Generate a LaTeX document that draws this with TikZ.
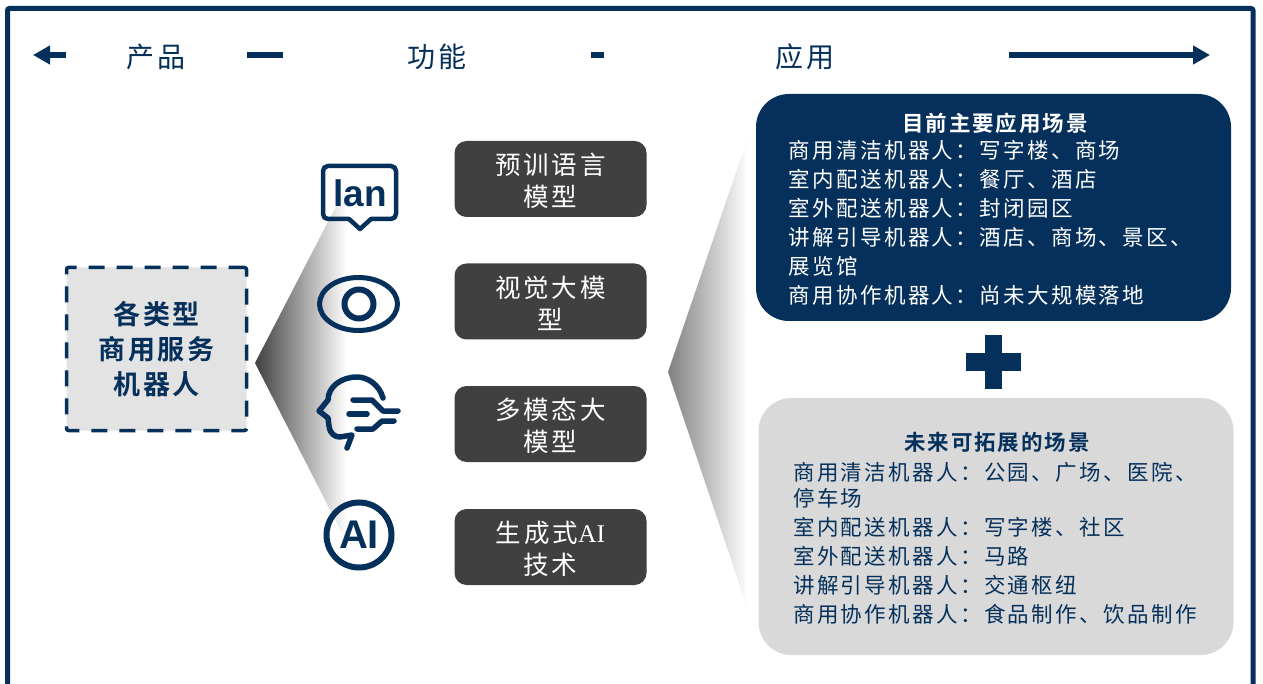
\documentclass[tikz,border=0pt]{standalone}
\usepackage{fontspec}
\usetikzlibrary{arrows.meta,shapes.geometric}
\newfontfamily\cjk[LetterSpace=11,BoldFont={Noto Sans CJK SC Bold}]{Noto Sans CJK SC}
\newfontfamily\cjktitle[LetterSpace=9,BoldFont={Noto Sans CJK SC Bold}]{Noto Sans CJK SC}
\newfontfamily\cjkhead[LetterSpace=14,BoldFont={Noto Sans CJK SC Bold}]{Noto Sans CJK SC}
\newfontfamily\latinserif{Liberation Serif}
\newfontfamily\iconsans{Liberation Sans}
\definecolor{navy}{HTML}{05305B}
\definecolor{darkbox}{HTML}{404040}
\definecolor{greybox}{HTML}{D9D9D9}
\definecolor{productfill}{HTML}{E3E3E3}
\tikzset{
  headlabel/.style={text=navy,inner sep=0pt,font=\cjkhead\fontsize{28}{30}\selectfont},
  headline/.style={draw=navy,line width=5.5pt},
  headarrow/.style={headline,-{Triangle[length=17pt,width=18pt]}},
  productbox/.style={draw=navy,fill=productfill,line width=3.5pt,dash pattern=on 16pt off 12pt,rounded corners=2pt,minimum width=180pt,minimum height=163pt,align=center,text=navy,font=\cjktitle\bfseries\fontsize{27}{35}\selectfont},
  modelbox/.style={fill=darkbox,rounded corners=12pt,minimum width=192pt,minimum height=76pt,inner sep=0pt},
  modeltext/.style={yshift=-2pt,inner sep=0pt,align=center,text=white,font=\cjk\fontsize{25.5}{32}\selectfont},
  scenebox/.style={rounded corners=33pt,minimum width=475pt},
  scenetitle/.style={inner sep=0pt,font=\cjktitle\bfseries\fontsize{21.5}{25}\selectfont},
  scenetext/.style={inner sep=0pt,anchor=north west,align=left,font=\cjk\fontsize{21.5}{29}\selectfont},
  iconline/.style={draw=navy,line width=5.5pt,line cap=round,line join=round},
}
\begin{document}
\begin{tikzpicture}[x=1pt,y=-1pt]
  \useasboundingbox (0,0) rectangle (1263,684);
  \draw [navy,line width=5pt,rounded corners=2pt] (7.5,8.5) rectangle (1253,710);

  \coordinate (larrowa) at (66,55);
  \coordinate (larrowb) at (33,55);
  \coordinate (lineaa) at (247,55);
  \coordinate (lineab) at (283,55);
  \coordinate (lineba) at (591,55);
  \coordinate (linebb) at (604,55);
  \coordinate (rarrowa) at (1009,55);
  \coordinate (rarrowb) at (1210,55);
  \draw [headarrow] (larrowa) -- (larrowb);
  \draw [headline] (lineaa) -- (lineab);
  \draw [headline] (lineba) -- (linebb);
  \draw [headarrow] (rarrowa) -- (rarrowb);
  \node [headlabel] (product) at (156,57) {产品};
  \node [headlabel] (function) at (437,57) {功能};
  \node [headlabel] (usage) at (805,57) {应用};

  \coordinate (fanl) at (255,363);
  \coordinate (fanlt) at (347,185);
  \coordinate (fanlb) at (347,543);
  \shade [left color=darkbox,right color=white] (fanl) -- (fanlt) -- (fanlb) -- cycle;
  \coordinate (fanr) at (668,372);
  \coordinate (fanrt) at (748,137);
  \coordinate (fanrb) at (748,610);
  \shade [left color=black!50,right color=white] (fanr) -- (fanrt) -- (fanrb) -- cycle;

  \node [productbox] (robots) at (156.5,349) {各类型\\商用服务\\机器人};

  \draw [iconline,line width=4.5pt,rounded corners=5pt] (323,166) rectangle (396,219);
  \fill [white] (349,216) rectangle (371,222);
  \draw [iconline,line width=4.5pt] (349,219) -- (360,229) -- (371,219);
  \node [inner sep=0pt,text=navy,font=\iconsans\bfseries\fontsize{37}{37}\selectfont] (lan) at (360,193) {lan};
  \node [ellipse,draw=navy,line width=5pt,minimum width=78pt,minimum height=53pt,inner sep=0pt] (eye) at (358.5,304) {};
  \node [circle,draw=navy,line width=6pt,minimum size=29pt,inner sep=0pt] (iris) at (359,304) {};
  \draw [iconline] (383,398) .. controls (379,384) and (367,377) .. (357,377) .. controls (341,377) and (328,387) .. (328,400) -- (319,411) -- (328,418) -- (329,426) .. controls (330,434) and (335,437) .. (340,437) -- (352,435) -- (347,448);
  \draw [iconline] (353,400) -- (372,400) -- (383,411) -- (398,411);
  \draw [iconline] (349,414) -- (367,414);
  \draw [iconline] (357,429) -- (373,429) -- (382,421) -- (394,421);
  \node [circle,draw=navy,line width=6pt,minimum size=65pt,inner sep=0pt,text=navy,font=\iconsans\bfseries\fontsize{40}{40}\selectfont] (ai) at (359,535) {AI};

  \node [modelbox] (pretrain) at (550.5,179) {};
  \node [modeltext] (pretraintext) at (pretrain) {预训语言\\模型};
  \node [modelbox] (vision) at (550.5,301.5) {};
  \node [modeltext] (visiontext) at (vision) {视觉大模\\型};
  \node [modelbox] (multi) at (550.5,424) {};
  \node [modeltext] (multitext) at (multi) {多模态大\\模型};
  \node [modelbox] (genai) at (550.5,547) {};
  \node [modeltext] (genaitext) at (genai) {生成式{\latinserif AI}\\技术};

  \node [scenebox,fill=navy,minimum height=227pt] (current) at (993.5,207.5) {};
  \node [scenetitle,text=white] (currenttitle) at (995,123) {目前主要应用场景};
  \node [scenetext,text=white] (currentlist) at (788.5,140) {商用清洁机器人：写字楼、商场\\室内配送机器人：餐厅、酒店\\室外配送机器人：封闭园区\\讲解引导机器人：酒店、商场、景区、\\展览馆\\商用协作机器人：尚未大规模落地};

  \fill [navy] (985,335) rectangle (1002,389);
  \fill [navy] (966,353) rectangle (1021,371);

  \node [scenebox,fill=greybox,minimum height=257pt] (future) at (996,526.5) {};
  \node [scenetitle,text=navy] (futuretitle) at (997,442) {未来可拓展的场景};
  \node [scenetext,text=navy] (futurelist) at (793,462) {商用清洁机器人：公园、广场、医院、\\[-3pt]停车场\\室内配送机器人：写字楼、社区\\室外配送机器人：马路\\讲解引导机器人：交通枢纽\\商用协作机器人：食品制作、饮品制作};
\end{tikzpicture}
\end{document}
